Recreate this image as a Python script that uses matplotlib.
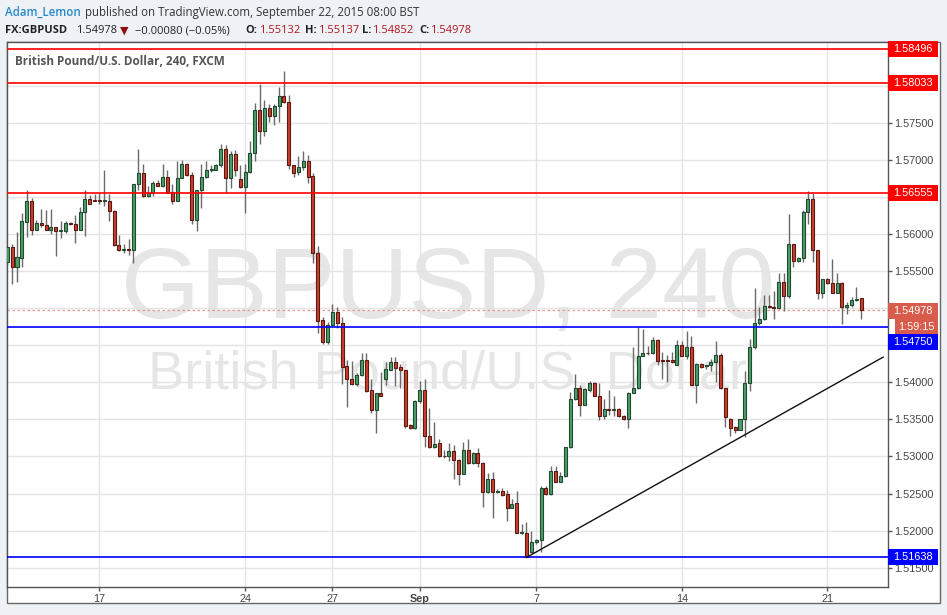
import numpy as np
import matplotlib
matplotlib.use("Agg")
import matplotlib.pyplot as plt
from matplotlib.patches import Rectangle
import matplotlib.transforms as mtransforms

# GBPUSD 240 (4h) candles, Aug 12 - Sep 22 2015
opens = [1.5562, 1.5582, 1.5556, 1.5568, 1.5616, 1.5644, 1.5605, 1.5615, 1.5612, 1.5606,
         1.5609, 1.5604, 1.5604, 1.5615, 1.5614, 1.5605, 1.5630, 1.5647, 1.5646, 1.5646,
         1.5645, 1.5645, 1.5631, 1.5585, 1.5578, 1.5580, 1.5578, 1.5668, 1.5682, 1.5651,
         1.5655, 1.5669, 1.5665, 1.5677, 1.5657, 1.5644, 1.5676, 1.5695, 1.5680, 1.5619,
         1.5659, 1.5677, 1.5687, 1.5687, 1.5693, 1.5715, 1.5675, 1.5708, 1.5674, 1.5663,
         1.5684, 1.5709, 1.5768, 1.5739, 1.5770, 1.5759, 1.5773, 1.5786, 1.5778, 1.5693,
         1.5684, 1.5690, 1.5698, 1.5678, 1.5575, 1.5484, 1.5455, 1.5478, 1.5495, 1.5480,
         1.5422, 1.5404, 1.5398, 1.5410, 1.5430, 1.5389, 1.5363, 1.5385, 1.5405, 1.5417,
         1.5428, 1.5421, 1.5416, 1.5343, 1.5338, 1.5375, 1.5389, 1.5328, 1.5313, 1.5318,
         1.5301, 1.5300, 1.5307, 1.5295, 1.5276, 1.5309, 1.5291, 1.5304, 1.5291, 1.5252,
         1.5269, 1.5252, 1.5253, 1.5249, 1.5231, 1.5237, 1.5197, 1.5197, 1.5171, 1.5184,
         1.5187, 1.5258, 1.5249, 1.5281, 1.5266, 1.5273, 1.5313, 1.5377, 1.5393, 1.5370,
         1.5390, 1.5399, 1.5382, 1.5354, 1.5364, 1.5363, 1.5364, 1.5355, 1.5350, 1.5386,
         1.5393, 1.5436, 1.5440, 1.5439, 1.5457, 1.5430, 1.5430, 1.5430, 1.5424, 1.5450,
         1.5435, 1.5447, 1.5397, 1.5425, 1.5422, 1.5423, 1.5427, 1.5437, 1.5392, 1.5351,
         1.5340, 1.5336, 1.5350, 1.5399, 1.5448, 1.5480, 1.5485, 1.5503, 1.5502, 1.5500,
         1.5536, 1.5516, 1.5586, 1.5563, 1.5568, 1.5630, 1.5647, 1.5579, 1.5520, 1.5539,
         1.5534, 1.5521, 1.5534, 1.5502, 1.5504, 1.5511, 1.55132]
highs = [1.5584, 1.5587, 1.5603, 1.5628, 1.5659, 1.5648, 1.5619, 1.5634, 1.5633, 1.5634,
         1.5610, 1.5617, 1.5617, 1.5616, 1.5626, 1.5637, 1.5659, 1.5653, 1.5654, 1.5655,
         1.5687, 1.5654, 1.5632, 1.5599, 1.5586, 1.5594, 1.5668, 1.5715, 1.5695, 1.5665,
         1.5671, 1.5673, 1.5695, 1.5687, 1.5668, 1.5699, 1.5700, 1.5696, 1.5684, 1.5660,
         1.5694, 1.5698, 1.5693, 1.5695, 1.5721, 1.5720, 1.5712, 1.5713, 1.5693, 1.5695,
         1.5725, 1.5777, 1.5802, 1.5781, 1.5776, 1.5776, 1.5798, 1.5820, 1.5788, 1.5693,
         1.5705, 1.5712, 1.5706, 1.5682, 1.5584, 1.5488, 1.5481, 1.5506, 1.5502, 1.5488,
         1.5430, 1.5429, 1.5412, 1.5440, 1.5440, 1.5405, 1.5386, 1.5414, 1.5428, 1.5434,
         1.5434, 1.5425, 1.5416, 1.5344, 1.5376, 1.5402, 1.5404, 1.5366, 1.5346, 1.5323,
         1.5309, 1.5318, 1.5315, 1.5296, 1.5320, 1.5324, 1.5306, 1.5311, 1.5292, 1.5278,
         1.5279, 1.5256, 1.5258, 1.5255, 1.5242, 1.5253, 1.5209, 1.5212, 1.5200, 1.5189,
         1.5260, 1.5260, 1.5287, 1.5287, 1.5279, 1.5313, 1.5387, 1.5411, 1.5396, 1.5392,
         1.5402, 1.5400, 1.5399, 1.5377, 1.5390, 1.5381, 1.5365, 1.5356, 1.5387, 1.5448,
         1.5475, 1.5472, 1.5449, 1.5461, 1.5458, 1.5441, 1.5437, 1.5441, 1.5457, 1.5456,
         1.5469, 1.5462, 1.5426, 1.5426, 1.5423, 1.5432, 1.5456, 1.5440, 1.5393, 1.5352,
         1.5341, 1.5351, 1.5415, 1.5458, 1.5527, 1.5501, 1.5518, 1.5518, 1.5523, 1.5547,
         1.5547, 1.5627, 1.5587, 1.5569, 1.5632, 1.5658, 1.5656, 1.5579, 1.5540, 1.5541,
         1.5566, 1.5548, 1.5535, 1.5508, 1.5515, 1.5528, 1.55137]
lows = [1.5558, 1.5532, 1.5535, 1.5556, 1.5596, 1.5599, 1.5605, 1.5609, 1.5605, 1.5600,
        1.5571, 1.5595, 1.5602, 1.5612, 1.5588, 1.5605, 1.5598, 1.5640, 1.5644, 1.5640,
        1.5638, 1.5617, 1.5584, 1.5577, 1.5574, 1.5572, 1.5561, 1.5659, 1.5650, 1.5650,
        1.5651, 1.5665, 1.5664, 1.5655, 1.5640, 1.5644, 1.5675, 1.5679, 1.5613, 1.5604,
        1.5635, 1.5676, 1.5684, 1.5686, 1.5691, 1.5656, 1.5662, 1.5679, 1.5662, 1.5629,
        1.5683, 1.5699, 1.5722, 1.5732, 1.5751, 1.5747, 1.5751, 1.5777, 1.5688, 1.5677,
        1.5680, 1.5686, 1.5669, 1.5561, 1.5466, 1.5452, 1.5452, 1.5476, 1.5473, 1.5398,
        1.5367, 1.5396, 1.5395, 1.5409, 1.5387, 1.5358, 1.5332, 1.5381, 1.5396, 1.5416,
        1.5395, 1.5393, 1.5339, 1.5337, 1.5337, 1.5372, 1.5313, 1.5312, 1.5312, 1.5299,
        1.5298, 1.5294, 1.5270, 1.5261, 1.5276, 1.5290, 1.5290, 1.5286, 1.5232, 1.5251,
        1.5217, 1.5251, 1.5247, 1.5213, 1.5230, 1.5197, 1.5196, 1.51638, 1.5170, 1.5182,
        1.5171, 1.5248, 1.5248, 1.5265, 1.5265, 1.5272, 1.5311, 1.5376, 1.5355, 1.5369,
        1.5387, 1.5381, 1.5349, 1.5351, 1.5356, 1.5355, 1.5353, 1.5349, 1.5338, 1.5386,
        1.5391, 1.5436, 1.5437, 1.5438, 1.5423, 1.5405, 1.5400, 1.5426, 1.5423, 1.5435,
        1.5432, 1.5396, 1.5372, 1.5419, 1.5418, 1.5415, 1.5401, 1.5391, 1.5340, 1.5327,
        1.5332, 1.5336, 1.5326, 1.5388, 1.5445, 1.5478, 1.5484, 1.5500, 1.5485, 1.5499,
        1.5496, 1.5514, 1.5555, 1.5562, 1.5562, 1.5614, 1.5562, 1.5512, 1.5514, 1.5532,
        1.5520, 1.5520, 1.5479, 1.5492, 1.5502, 1.5510, 1.54852]
closes = [1.5582, 1.5556, 1.5569, 1.5617, 1.5644, 1.5605, 1.5615, 1.5612, 1.5606, 1.5609,
          1.5604, 1.5605, 1.5615, 1.5613, 1.5605, 1.5630, 1.5647, 1.5641, 1.5645, 1.5644,
          1.5646, 1.5631, 1.5585, 1.5578, 1.5580, 1.5578, 1.5668, 1.5682, 1.5651, 1.5655,
          1.5669, 1.5665, 1.5677, 1.5656, 1.5644, 1.5676, 1.5695, 1.5680, 1.5619, 1.5659,
          1.5677, 1.5687, 1.5687, 1.5693, 1.5715, 1.5675, 1.5708, 1.5686, 1.5663, 1.5684,
          1.5709, 1.5768, 1.5739, 1.5770, 1.5759, 1.5773, 1.5786, 1.5778, 1.5693, 1.5683,
          1.5691, 1.5698, 1.5677, 1.5574, 1.5483, 1.5455, 1.5478, 1.5495, 1.5480, 1.5421,
          1.5404, 1.5398, 1.5410, 1.5430, 1.5388, 1.5363, 1.5385, 1.5382, 1.5418, 1.5428,
          1.5420, 1.5416, 1.5341, 1.5338, 1.5375, 1.5389, 1.5328, 1.5313, 1.5317, 1.5300,
          1.5300, 1.5307, 1.5295, 1.5276, 1.5309, 1.5291, 1.5304, 1.5291, 1.5252, 1.5269,
          1.5252, 1.5253, 1.5248, 1.5231, 1.5236, 1.5197, 1.5198, 1.5164, 1.5184, 1.5187,
          1.5258, 1.5249, 1.5281, 1.5266, 1.5273, 1.5313, 1.5377, 1.5393, 1.5370, 1.5391,
          1.5399, 1.5382, 1.5354, 1.5364, 1.5363, 1.5364, 1.5354, 1.5350, 1.5386, 1.5393,
          1.5436, 1.5439, 1.5439, 1.5457, 1.5429, 1.5429, 1.5429, 1.5427, 1.5450, 1.5436,
          1.5447, 1.5397, 1.5425, 1.5421, 1.5423, 1.5427, 1.5437, 1.5392, 1.5353, 1.5339,
          1.5336, 1.5350, 1.5399, 1.5448, 1.5480, 1.5485, 1.5503, 1.5501, 1.5500, 1.5536,
          1.5516, 1.5586, 1.5563, 1.5568, 1.5630, 1.5647, 1.5579, 1.5521, 1.5539, 1.5534,
          1.5521, 1.5534, 1.5502, 1.5504, 1.5511, 1.5513, 1.54978]

date_ticks = [19, 49, 67, 85, 109, 139, 169]
date_labels = ['17', '24', '27', 'Sep', '7', '14', '21']
price_ticks = [1.515, 1.520, 1.525, 1.530, 1.535, 1.540, 1.545, 1.550, 1.555,
               1.560, 1.565, 1.570, 1.575, 1.580, 1.585]
# ticks whose labels sit under a level box in the reference
hidden_ticks = [1.545, 1.550, 1.565, 1.580, 1.585]

red_levels = [1.58496, 1.58033, 1.56555]
blue_levels = [1.54750, 1.51638]
trend_pts = ([107, 180.5], [1.51638, 1.5434])
countdown = '1:59:15'

W, H = 947, 615
fig = plt.figure(figsize=(W / 100, H / 100), dpi=100, facecolor='#eef2f6')

# white chart panel with border
fig.add_artist(Rectangle((7 / W, 1 - 603 / H), 933 / W, 561 / H, transform=fig.transFigure,
                         facecolor='white', edgecolor='#666666', lw=1, zorder=-5))

ax = fig.add_axes([7 / W, 1 - 587 / H, 881 / W, 545 / H])
ax.set_facecolor('white')
ax.set_axisbelow(True)

o = np.array(opens); c = np.array(closes)
hi = np.array(highs); lo = np.array(lows)
idx = np.arange(len(o))
up = c >= o

# watermark
ax.text(0.5, 0.4936, 'GBPUSD, 240', transform=ax.transAxes, ha='center', va='baseline',
        fontsize=73, color='#e6e6e6', family='Liberation Sans', zorder=0.1)
ax.text(0.5, 0.365, 'British Pound/U.S. Dollar', transform=ax.transAxes, ha='center',
        va='baseline', fontsize=39, color='#e6e6e6', family='Liberation Sans', zorder=0.1)

# grid
for p in price_ticks:
    ax.axhline(p, color='#e4e4e4', lw=1, zorder=0.3)
for t in date_ticks:
    ax.axvline(t, color='#e4e4e4', lw=1, zorder=0.3)

# candles
ax.vlines(idx, lo, hi, color='#6a6a6a', lw=1, zorder=2)
body_bot = np.minimum(o, c)
body_h = np.maximum(np.abs(c - o), 0.00004)
ax.bar(idx, body_h, bottom=body_bot, width=0.62,
       color=np.where(up, '#4f9e6c', '#cc3d2e'),
       edgecolor=np.where(up, '#1f4a30', '#5a1a12'), linewidth=0.8, zorder=3)

# levels
for p in red_levels:
    ax.axhline(p, color='#ff0000', lw=1.2, zorder=4)
for p in blue_levels:
    ax.axhline(p, color='#0000ff', lw=1.2, zorder=4)
ax.axhline(closes[-1], color='#e79a92', lw=0.9, ls=(0, (2, 2)), zorder=1.5)
ax.plot(trend_pts[0], trend_pts[1], color='#111111', lw=1, zorder=4)

ax.set_xlim(-0.06, 181.5)
ax.set_ylim(1.51239, 1.58591)

# axes styling
for s in ax.spines.values():
    s.set_color('#555555')
    s.set_linewidth(1)
ax.yaxis.tick_right()
ax.set_yticks(price_ticks)
ax.set_yticklabels(['' if p in hidden_ticks else '%.5f' % p for p in price_ticks])
ax.set_xticks(date_ticks)
ax.set_xticklabels(date_labels)
ax.tick_params(axis='both', direction='out', length=3, color='#555555', width=1,
               labelcolor='#444444', labelsize=7.8)
ax.tick_params(axis='y', pad=1.5)
ax.tick_params(axis='x', pad=2)
for lab in ax.get_yticklabels() + ax.get_xticklabels():
    lab.set_family('Liberation Sans')
ax.get_xticklabels()[3].set_fontweight('bold')

# right-axis price boxes
trans = mtransforms.blended_transform_factory(ax.transAxes, ax.transData)
box_w = 50 / 881
half_h = 8 / 7413


def price_box(y, text, fc, x0=1.0):
    ax.add_patch(Rectangle((x0, y - half_h), 1.0 + box_w - x0, 2 * half_h, transform=trans,
                           facecolor=fc, edgecolor='none', clip_on=False, zorder=6))
    ax.text(1.0 + box_w / 2 + (x0 - 1.0) / 2, y, text, transform=trans, ha='center',
            va='center', color='white', fontsize=7.8, family='Liberation Sans',
            clip_on=False, zorder=7)


for p in red_levels:
    price_box(p, '%.5f' % p, '#ff0000')
price_box(blue_levels[1], '%.5f' % blue_levels[1], '#0000ff')
price_box(closes[-1] - 0.00015, '%.5f' % closes[-1], '#d95b4b')
price_box(closes[-1] - 0.00015 - 2 * half_h - 0.00003, countdown, '#d95b4b', x0=1.0 + 7 / 881)
price_box(blue_levels[0] - 0.00208, '%.5f' % blue_levels[0], '#0000ff')

# title inside chart
ax.text(8 / 881, 1 - 23 / 545, 'British Pound/U.S. Dollar, 240, FXCM', transform=ax.transAxes,
        ha='left', va='baseline', fontsize=8.5, color='#555555', fontweight='bold',
        family='Open Sans', zorder=8)

# header
hdr = ['Open Sans', 'DejaVu Sans']
y1 = 1 - 15.7 / H
y2 = 1 - 33.3 / H
fig.text(5 / W, y1, 'Adam_Lemon', color='#2a89c9', fontsize=8.3, fontweight='semibold',
         family=hdr, va='baseline')
fig.text(85 / W, y1, 'published on TradingView.com, September 22, 2015 08:00 BST',
         color='#333333', fontsize=8.3, family=hdr, va='baseline')

dark = '#222222'
red = '#b3141b'
segs = [('FX:GBPUSD', 5, dark, 'bold'),
        ('%.5f' % closes[-1], 76, dark, 'normal'),
        ('\u25bc', 120, '#8e0f0f', 'normal'),
        ('\u22120.00080 (\u22120.05%)', 135, dark, 'normal'),
        ('O:', 245, dark, 'bold'), ('%.5f' % opens[-1], 259, red, 'normal'),
        ('H:', 305, dark, 'bold'), ('%.5f' % highs[-1], 318, red, 'normal'),
        ('L:', 362, dark, 'bold'), ('%.5f' % lows[-1], 372, red, 'normal'),
        ('C:', 419, dark, 'bold'), ('%.5f' % closes[-1], 430, red, 'normal')]
for txt, x, col, wt in segs:
    fig.text(x / W, y2, txt, color=col, fontsize=8.0, fontweight=wt, family=hdr, va='baseline')

fig.savefig('out.png', dpi=100, facecolor=fig.get_facecolor())
